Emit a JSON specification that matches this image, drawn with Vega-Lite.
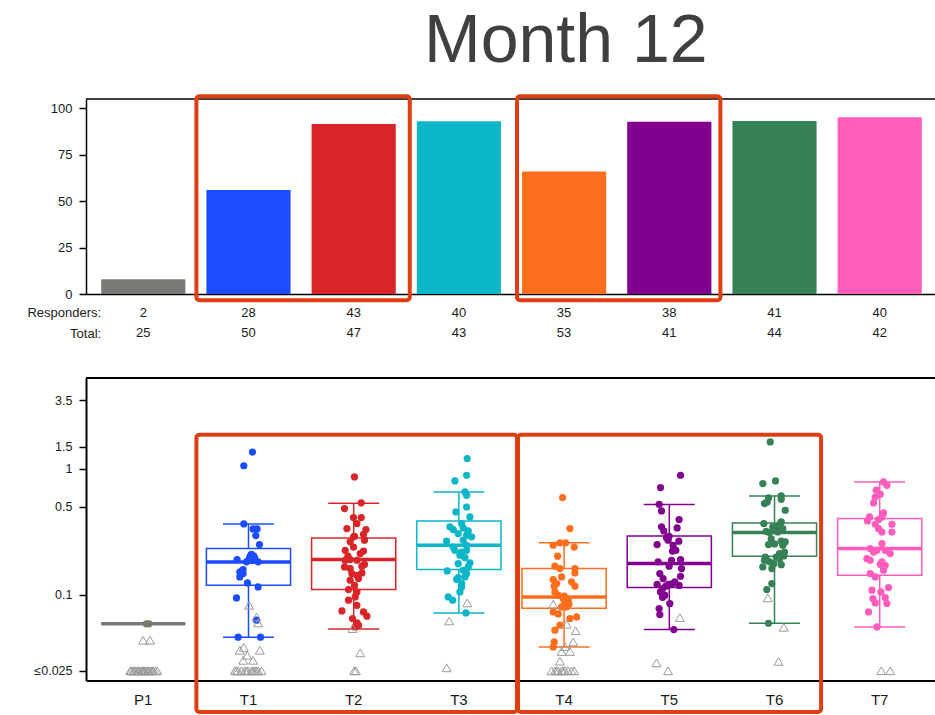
{
"$schema": "https://vega.github.io/schema/vega-lite/v6.json",
"padding": {"left": 0, "right": 0, "top": 8, "bottom": 0},
"background": "white",
"title": {"text": "Month 12", "font": "Liberation Sans", "fontSize": 68, "fontWeight": "normal", "color": "#404040", "anchor": "start", "dx": 424, "offset": 18},
"config": {"view": {"stroke": null}, "font": "Liberation Sans", "axis": {"domainColor": "black", "tickColor": "black", "labelColor": "#1a1a1a", "grid": false}},
"spacing": 36,
"resolve": {"scale": {"x": "independent", "y": "independent", "xOffset": "independent"}},
"datasets": {
"bars": [
{"g":"P1","pct":8.0,"responders":"2","total":"25"},
{"g":"T1","pct":56.0,"responders":"28","total":"50"},
{"g":"T2","pct":91.5,"responders":"43","total":"47"},
{"g":"T3","pct":93.0,"responders":"40","total":"43"},
{"g":"T4","pct":66.0,"responders":"35","total":"53"},
{"g":"T5","pct":92.7,"responders":"38","total":"41"},
{"g":"T6","pct":93.2,"responders":"41","total":"44"},
{"g":"T7","pct":95.2,"responders":"40","total":"42"}
],
"stats": [
{"g":"P1","lower":0.059,"q1":0.059,"median":0.059,"q3":0.059,"upper":0.059},
{"g":"T1","lower":0.0462,"q1":0.1194,"median":0.1828,"q3":0.2334,"upper":0.366},
{"g":"T2","lower":0.0537,"q1":0.1104,"median":0.191,"q3":0.283,"upper":0.534},
{"g":"T3","lower":0.072,"q1":0.159,"median":0.248,"q3":0.387,"upper":0.657},
{"g":"T4","lower":0.0387,"q1":0.0784,"median":0.0964,"q3":0.162,"upper":0.259},
{"g":"T5","lower":0.0531,"q1":0.1145,"median":0.1775,"q3":0.294,"upper":0.521},
{"g":"T6","lower":0.0596,"q1":0.203,"median":0.313,"q3":0.373,"upper":0.611},
{"g":"T7","lower":0.0557,"q1":0.1433,"median":0.2334,"q3":0.404,"upper":0.789}
],
"resp": [
{"g":"P1","v":0.059,"j":5.7},{"g":"P1","v":0.059,"j":3},
{"g":"T1","v":1.36,"j":4},{"g":"T1","v":1.06,"j":-4.7},{"g":"T1","v":0.366,"j":-4.7},{"g":"T1","v":0.334,"j":4.6},{"g":"T1","v":0.334,"j":8.6},{"g":"T1","v":0.296,"j":7.3},{"g":"T1","v":0.251,"j":11},{"g":"T1","v":0.191,"j":-11.4},{"g":"T1","v":0.207,"j":2.3},{"g":"T1","v":0.203,"j":5.3},{"g":"T1","v":0.188,"j":4},{"g":"T1","v":0.183,"j":9.6},{"g":"T1","v":0.192,"j":0.6},{"g":"T1","v":0.154,"j":-7},{"g":"T1","v":0.148,"j":-5.4},{"g":"T1","v":0.139,"j":-8.7},{"g":"T1","v":0.1245,"j":-1},{"g":"T1","v":0.1157,"j":9.6},{"g":"T1","v":0.0947,"j":-12},{"g":"T1","v":0.063,"j":8},{"g":"T1","v":0.0462,"j":-10.4},{"g":"T1","v":0.0462,"j":12},{"g":"T1","v":0.2,"j":1.3},{"g":"T1","v":0.195,"j":6.3},{"g":"T1","v":0.152,"j":-8.7},{"g":"T1","v":0.159,"j":-5.4},{"g":"T1","v":0.21,"j":3},{"g":"T1","v":0.183,"j":-2},
{"g":"T2","v":0.864,"j":0.8},{"g":"T2","v":0.538,"j":7.5},{"g":"T2","v":0.485,"j":-9.2},{"g":"T2","v":0.411,"j":-0.2},{"g":"T2","v":0.411,"j":7.5},{"g":"T2","v":0.336,"j":-6.8},{"g":"T2","v":0.369,"j":3.2},{"g":"T2","v":0.33,"j":12.2},{"g":"T2","v":0.303,"j":9.8},{"g":"T2","v":0.292,"j":0.8},{"g":"T2","v":0.264,"j":-3.5},{"g":"T2","v":0.272,"j":10.8},{"g":"T2","v":0.226,"j":-8.5},{"g":"T2","v":0.223,"j":9.8},{"g":"T2","v":0.203,"j":-5.8},{"g":"T2","v":0.191,"j":-3.5},{"g":"T2","v":0.1885,"j":3.2},{"g":"T2","v":0.167,"j":-9.2},{"g":"T2","v":0.162,"j":-3.5},{"g":"T2","v":0.175,"j":10.8},{"g":"T2","v":0.1433,"j":3.2},{"g":"T2","v":0.1495,"j":8.2},{"g":"T2","v":0.131,"j":-3.5},{"g":"T2","v":0.119,"j":0.8},{"g":"T2","v":0.1104,"j":-5.2},{"g":"T2","v":0.1056,"j":3.2},{"g":"T2","v":0.0964,"j":1.5},{"g":"T2","v":0.0828,"j":3.2},{"g":"T2","v":0.0746,"j":-11.8},{"g":"T2","v":0.0733,"j":9.8},{"g":"T2","v":0.0678,"j":13.2},{"g":"T2","v":0.065,"j":-1.2},{"g":"T2","v":0.06,"j":3.2},{"g":"T2","v":0.0575,"j":4.8},{"g":"T2","v":0.24,"j":-0.2},{"g":"T2","v":0.213,"j":6.5},{"g":"T2","v":0.1885,"j":-8.5},{"g":"T2","v":0.169,"j":8.2},{"g":"T2","v":0.148,"j":-1.8},{"g":"T2","v":0.135,"j":4.8},{"g":"T2","v":0.289,"j":-0.2},{"g":"T2","v":0.0908,"j":-5.2},{"g":"T2","v":0.0557,"j":1.5},
{"g":"T3","v":1.209,"j":8.3},{"g":"T3","v":0.891,"j":7.7},{"g":"T3","v":0.803,"j":-4},{"g":"T3","v":0.657,"j":6},{"g":"T3","v":0.618,"j":7.7},{"g":"T3","v":0.499,"j":7.7},{"g":"T3","v":0.456,"j":-3},{"g":"T3","v":0.416,"j":11},{"g":"T3","v":0.347,"j":-9},{"g":"T3","v":0.33,"j":-5.7},{"g":"T3","v":0.34,"j":4.3},{"g":"T3","v":0.322,"j":9.3},{"g":"T3","v":0.298,"j":7.7},{"g":"T3","v":0.289,"j":12.7},{"g":"T3","v":0.268,"j":-12.3},{"g":"T3","v":0.272,"j":4.3},{"g":"T3","v":0.226,"j":-4},{"g":"T3","v":0.2066,"j":1},{"g":"T3","v":0.198,"j":6},{"g":"T3","v":0.1795,"j":11},{"g":"T3","v":0.167,"j":9.3},{"g":"T3","v":0.155,"j":-11.7},{"g":"T3","v":0.157,"j":4.3},{"g":"T3","v":0.148,"j":7.7},{"g":"T3","v":0.1375,"j":-0.7},{"g":"T3","v":0.123,"j":2.7},{"g":"T3","v":0.133,"j":-2.3},{"g":"T3","v":0.1056,"j":1},{"g":"T3","v":0.0964,"j":-10.7},{"g":"T3","v":0.0908,"j":-6.3},{"g":"T3","v":0.072,"j":7},{"g":"T3","v":0.369,"j":2.7},{"g":"T3","v":0.307,"j":-0.7},{"g":"T3","v":0.248,"j":7.7},{"g":"T3","v":0.24,"j":-5.7},{"g":"T3","v":0.219,"j":2.7},{"g":"T3","v":0.226,"j":7.7},{"g":"T3","v":0.177,"j":-0.7},{"g":"T3","v":0.139,"j":6},{"g":"T3","v":0.1157,"j":2.7},
{"g":"T4","v":0.593,"j":-1.5},{"g":"T4","v":0.336,"j":5.8},{"g":"T4","v":0.248,"j":-10.9},{"g":"T4","v":0.259,"j":-4.2},{"g":"T4","v":0.259,"j":1.5},{"g":"T4","v":0.24,"j":10.1},{"g":"T4","v":0.203,"j":-6.5},{"g":"T4","v":0.169,"j":-9.2},{"g":"T4","v":0.162,"j":-4.2},{"g":"T4","v":0.162,"j":10.8},{"g":"T4","v":0.1495,"j":10.8},{"g":"T4","v":0.1325,"j":-10.9},{"g":"T4","v":0.127,"j":7.5},{"g":"T4","v":0.1173,"j":10.8},{"g":"T4","v":0.1173,"j":-9.9},{"g":"T4","v":0.1056,"j":-9.2},{"g":"T4","v":0.0995,"j":-5.9},{"g":"T4","v":0.0977,"j":0.1},{"g":"T4","v":0.088,"j":2.5},{"g":"T4","v":0.0844,"j":4.8},{"g":"T4","v":0.0803,"j":-2.5},{"g":"T4","v":0.0733,"j":-10.9},{"g":"T4","v":0.0707,"j":-5.9},{"g":"T4","v":0.0669,"j":12.5},{"g":"T4","v":0.065,"j":5.8},{"g":"T4","v":0.0575,"j":-4.2},{"g":"T4","v":0.0525,"j":-9.2},{"g":"T4","v":0.0424,"j":-9.9},{"g":"T4","v":0.0387,"j":-10.9},{"g":"T4","v":0.0855,"j":0.8},{"g":"T4","v":0.0936,"j":-0.9},{"g":"T4","v":0.123,"j":-7.5},{"g":"T4","v":0.0803,"j":2.5},{"g":"T4","v":0.139,"j":-2.5},{"g":"T4","v":0.0908,"j":4.1},
{"g":"T5","v":0.891,"j":11.2},{"g":"T5","v":0.711,"j":-8.8},{"g":"T5","v":0.524,"j":-10.2},{"g":"T5","v":0.464,"j":-7.8},{"g":"T5","v":0.397,"j":9.8},{"g":"T5","v":0.34,"j":7.8},{"g":"T5","v":0.347,"j":-7.8},{"g":"T5","v":0.322,"j":-5.5},{"g":"T5","v":0.292,"j":-0.2},{"g":"T5","v":0.272,"j":-1.2},{"g":"T5","v":0.267,"j":9.5},{"g":"T5","v":0.251,"j":-12.2},{"g":"T5","v":0.248,"j":3.8},{"g":"T5","v":0.223,"j":3.2},{"g":"T5","v":0.226,"j":6.5},{"g":"T5","v":0.183,"j":-11.2},{"g":"T5","v":0.191,"j":11.2},{"g":"T5","v":0.169,"j":-0.2},{"g":"T5","v":0.162,"j":12.2},{"g":"T5","v":0.148,"j":-9.5},{"g":"T5","v":0.1405,"j":11.2},{"g":"T5","v":0.135,"j":-6.2},{"g":"T5","v":0.1216,"j":-12.2},{"g":"T5","v":0.1216,"j":-1.2},{"g":"T5","v":0.123,"j":3.2},{"g":"T5","v":0.119,"j":9.8},{"g":"T5","v":0.1124,"j":-6.8},{"g":"T5","v":0.1173,"j":-3.5},{"g":"T5","v":0.1056,"j":-8.8},{"g":"T5","v":0.0995,"j":-4.5},{"g":"T5","v":0.0957,"j":-6.8},{"g":"T5","v":0.0855,"j":0.5},{"g":"T5","v":0.078,"j":-10.2},{"g":"T5","v":0.0699,"j":-9.5},{"g":"T5","v":0.0531,"j":4.5},{"g":"T5","v":0.285,"j":-2.8},{"g":"T5","v":0.1885,"j":2.2},{"g":"T5","v":0.127,"j":5.5},
{"g":"T6","v":1.637,"j":-4.3},{"g":"T6","v":0.766,"j":-11.7},{"g":"T6","v":0.803,"j":1},{"g":"T6","v":0.589,"j":-6},{"g":"T6","v":0.611,"j":6.7},{"g":"T6","v":0.531,"j":-10},{"g":"T6","v":0.547,"j":-7.3},{"g":"T6","v":0.574,"j":6.7},{"g":"T6","v":0.47,"j":10.7},{"g":"T6","v":0.369,"j":-10.7},{"g":"T6","v":0.38,"j":6.7},{"g":"T6","v":0.357,"j":4},{"g":"T6","v":0.347,"j":-1.7},{"g":"T6","v":0.32,"j":-8.3},{"g":"T6","v":0.336,"j":8.3},{"g":"T6","v":0.326,"j":1.7},{"g":"T6","v":0.313,"j":-5},{"g":"T6","v":0.267,"j":6.7},{"g":"T6","v":0.264,"j":10.7},{"g":"T6","v":0.251,"j":-6},{"g":"T6","v":0.254,"j":0},{"g":"T6","v":0.213,"j":5},{"g":"T6","v":0.219,"j":10},{"g":"T6","v":0.2,"j":-9.3},{"g":"T6","v":0.167,"j":-11.7},{"g":"T6","v":0.183,"j":-5},{"g":"T6","v":0.162,"j":-2.7},{"g":"T6","v":0.174,"j":6.7},{"g":"T6","v":0.194,"j":5},{"g":"T6","v":0.204,"j":9.3},{"g":"T6","v":0.1885,"j":-7.3},{"g":"T6","v":0.123,"j":-2.7},{"g":"T6","v":0.1104,"j":-7.7},{"g":"T6","v":0.0596,"j":-6},{"g":"T6","v":0.316,"j":3.3},{"g":"T6","v":0.279,"j":-3.3},{"g":"T6","v":0.248,"j":8.3},{"g":"T6","v":0.2,"j":1.7},{"g":"T6","v":0.1885,"j":-10},{"g":"T6","v":0.361,"j":5},{"g":"T6","v":0.177,"j":-0.7},
{"g":"T7","v":0.789,"j":3.8},{"g":"T7","v":0.741,"j":7.2},{"g":"T7","v":0.678,"j":-3.5},{"g":"T7","v":0.631,"j":0.5},{"g":"T7","v":0.599,"j":-4.5},{"g":"T7","v":0.537,"j":-6.2},{"g":"T7","v":0.448,"j":3.8},{"g":"T7","v":0.416,"j":-10.2},{"g":"T7","v":0.416,"j":2.2},{"g":"T7","v":0.387,"j":-12.2},{"g":"T7","v":0.397,"j":-1.2},{"g":"T7","v":0.364,"j":-4.5},{"g":"T7","v":0.364,"j":12.2},{"g":"T7","v":0.316,"j":2.2},{"g":"T7","v":0.316,"j":12.2},{"g":"T7","v":0.2334,"j":-9.5},{"g":"T7","v":0.219,"j":-6.2},{"g":"T7","v":0.256,"j":2.2},{"g":"T7","v":0.226,"j":5.5},{"g":"T7","v":0.213,"j":10.5},{"g":"T7","v":0.194,"j":-12.8},{"g":"T7","v":0.1885,"j":-9.5},{"g":"T7","v":0.175,"j":0.5},{"g":"T7","v":0.172,"j":5.5},{"g":"T7","v":0.165,"j":3.8},{"g":"T7","v":0.148,"j":-9.5},{"g":"T7","v":0.139,"j":-4.5},{"g":"T7","v":0.109,"j":-7.8},{"g":"T7","v":0.1056,"j":1.2},{"g":"T7","v":0.1145,"j":8.8},{"g":"T7","v":0.0936,"j":-6.8},{"g":"T7","v":0.0952,"j":5.5},{"g":"T7","v":0.0864,"j":-4.5},{"g":"T7","v":0.0855,"j":7.2},{"g":"T7","v":0.0733,"j":-11.2},{"g":"T7","v":0.0557,"j":-2.8},{"g":"T7","v":0.226,"j":-2.8},{"g":"T7","v":0.157,"j":3.8},{"g":"T7","v":0.336,"j":-1.2},{"g":"T7","v":0.183,"j":2.2}
],
"nonr": [
{"g":"P1","v":0.0437,"j":-0.3},{"g":"P1","v":0.0437,"j":6.7},
{"g":"P1","v":0.025,"j":-13},{"g":"P1","v":0.025,"j":-12},{"g":"P1","v":0.025,"j":-10},{"g":"P1","v":0.025,"j":-9},{"g":"P1","v":0.025,"j":-8},{"g":"P1","v":0.025,"j":-6},{"g":"P1","v":0.025,"j":-5},{"g":"P1","v":0.025,"j":-4},{"g":"P1","v":0.025,"j":-2},{"g":"P1","v":0.025,"j":-1},{"g":"P1","v":0.025,"j":0},{"g":"P1","v":0.025,"j":1},{"g":"P1","v":0.025,"j":2},{"g":"P1","v":0.025,"j":4},{"g":"P1","v":0.025,"j":5},{"g":"P1","v":0.025,"j":6},{"g":"P1","v":0.025,"j":8},{"g":"P1","v":0.025,"j":9},{"g":"P1","v":0.025,"j":10},{"g":"P1","v":0.025,"j":12},{"g":"P1","v":0.025,"j":14},
{"g":"T1","v":0.0828,"j":0.6},{"g":"T1","v":0.0669,"j":8},{"g":"T1","v":0.06,"j":9.6},{"g":"T1","v":0.0364,"j":11.3},{"g":"T1","v":0.0364,"j":-8.7},{"g":"T1","v":0.0383,"j":-4.7},{"g":"T1","v":0.0332,"j":-1.4},{"g":"T1","v":0.0303,"j":4.6},{"g":"T1","v":0.0303,"j":-5.4},
{"g":"T1","v":0.025,"j":-13.7},{"g":"T1","v":0.025,"j":-10.4},{"g":"T1","v":0.025,"j":-7},{"g":"T1","v":0.025,"j":-3.7},{"g":"T1","v":0.025,"j":-0.4},{"g":"T1","v":0.025,"j":3},{"g":"T1","v":0.025,"j":6.3},{"g":"T1","v":0.025,"j":9.6},{"g":"T1","v":0.025,"j":13},{"g":"T1","v":0.025,"j":-12},{"g":"T1","v":0.025,"j":-2},{"g":"T1","v":0.025,"j":4.6},{"g":"T1","v":0.025,"j":8},
{"g":"T2","v":0.0541,"j":-1.2},{"g":"T2","v":0.0347,"j":6.5},{"g":"T2","v":0.025,"j":2.2},{"g":"T2","v":0.025,"j":0.5},
{"g":"T3","v":0.0864,"j":8.3},{"g":"T3","v":0.0622,"j":-9.7},{"g":"T3","v":0.0264,"j":-12.3},
{"g":"T4","v":0.0844,"j":-10.9},{"g":"T4","v":0.0585,"j":2.5},{"g":"T4","v":0.052,"j":11.5},{"g":"T4","v":0.0424,"j":9.1},{"g":"T4","v":0.039,"j":0.8},{"g":"T4","v":0.0356,"j":-2.5},{"g":"T4","v":0.0356,"j":5.8},{"g":"T4","v":0.0298,"j":-4.2},
{"g":"T4","v":0.025,"j":-12.5},{"g":"T4","v":0.025,"j":-9.2},{"g":"T4","v":0.025,"j":-5.9},{"g":"T4","v":0.025,"j":-2.5},{"g":"T4","v":0.025,"j":0.8},{"g":"T4","v":0.025,"j":4.1},{"g":"T4","v":0.025,"j":7.5},{"g":"T4","v":0.025,"j":10.1},{"g":"T4","v":0.025,"j":-7.5},{"g":"T4","v":0.025,"j":-0.9},
{"g":"T5","v":0.0662,"j":10.5},{"g":"T5","v":0.0289,"j":-12.8},{"g":"T5","v":0.025,"j":-1.2},
{"g":"T6","v":0.0948,"j":-6.7},{"g":"T6","v":0.0554,"j":9.3},{"g":"T6","v":0.0297,"j":4},
{"g":"T7","v":0.025,"j":1.5},{"g":"T7","v":0.025,"j":10.5}
]
},
"vconcat": [
{
"width": 849, "height": 195,
"layer": [
{"data": {"name": "bars"}, "mark": {"type": "bar", "width": {"band": 1}},
 "encoding": {
  "x": {"field": "g", "type": "nominal", "sort": null,
    "scale": {"type": "band", "domain": ["P1","T1","T2","T3","T4","T5","T6","T7"], "paddingInner": 0.2, "paddingOuter": 0.135, "align": 0.535},
    "axis": {"labels": false, "ticks": false, "domain": true, "domainWidth": 1.5, "title": ["Responders:", "Total:"], "titleAngle": 0, "titleAlign": "right", "titleBaseline": "alphabetic", "titleX": 14.7, "titleY": 22.6, "titleFontSize": 13, "titleFontWeight": "normal", "titleLineHeight": 20.7, "titleColor": "#1a1a1a", "titleFont": "Liberation Sans"}},
  "y": {"field": "pct", "type": "quantitative", "scale": {"domain": [0, 105], "nice": false},
    "axis": {"values": [0,25,50,75,100], "title": null, "tickSize": 7, "tickWidth": 1.5, "labelFontSize": 13, "labelPadding": 7, "domainWidth": 1.5, "minExtent": 86}},
  "color": {"field": "g", "type": "nominal", "scale": {"domain": ["P1","T1","T2","T3","T4","T5","T6","T7"], "range": ["#7a7a74","#1c4cff","#d92428","#0bb6c9","#ff6e1c","#82008f","#368155","#ff5cbc"]}, "legend": null}
 }},
{"data": {"name": "bars"}, "mark": {"type": "text", "fontSize": 13, "baseline": "alphabetic", "color": "#1a1a1a"},
 "encoding": {"x": {"field": "g", "type": "nominal"}, "y": {"datum": -12.2}, "text": {"field": "responders"}}},
{"data": {"name": "bars"}, "mark": {"type": "text", "fontSize": 13, "baseline": "alphabetic", "color": "#1a1a1a"},
 "encoding": {"x": {"field": "g", "type": "nominal"}, "y": {"datum": -23.3}, "text": {"field": "total"}}},
{"data": {"values": [{}]}, "mark": {"type": "rule", "color": "black", "strokeWidth": 1.5},
 "encoding": {"y": {"datum": 105}}},
{"data": {"values": [{"from": "T1", "to": "T2"}]}, "mark": {"type": "rect", "filled": false, "stroke": "#de3f12", "strokeWidth": 4, "cornerRadius": 3, "xOffset": -10, "x2Offset": 14},
 "encoding": {"x": {"field": "from", "type": "nominal", "bandPosition": 0}, "x2": {"field": "to", "bandPosition": 1}, "y": {"datum": 106.5}, "y2": {"datum": -3.4}}},
{"data": {"values": [{"from": "T4", "to": "T5"}]}, "mark": {"type": "rect", "filled": false, "stroke": "#de3f12", "strokeWidth": 4, "cornerRadius": 3, "xOffset": -5, "x2Offset": 9},
 "encoding": {"x": {"field": "from", "type": "nominal", "bandPosition": 0}, "x2": {"field": "to", "bandPosition": 1}, "y": {"datum": 106.5}, "y2": {"datum": -3.4}}}
]
},
{
"width": 849, "height": 302.6,
"layer": [
{"data": {"name": "stats"}, "mark": {"type": "rule", "strokeWidth": 1.5},
 "encoding": {
  "x": {"field": "g", "type": "nominal", "sort": null,
    "scale": {"type": "band", "domain": ["P1","T1","T2","T3","T4","T5","T6","T7"], "paddingInner": 0.2, "paddingOuter": 0.135, "align": 0.535},
    "axis": {"ticks": false, "domain": true, "domainWidth": 2, "title": null, "labelFontSize": 15, "labelPadding": 12, "labelAngle": 0}},
  "y": {"field": "lower", "type": "quantitative", "scale": {"type": "log", "domain": [0.0209, 5.27], "nice": false},
    "axis": {"values": [0.025, 0.1, 0.5, 1, 1.5, 3.5], "labelExpr": "datum.value < 0.03 ? '≤0.025' : format(datum.value, '~g')", "title": null, "tickSize": 7, "tickWidth": 1.5, "labelFontSize": 12.5, "labelPadding": 7, "domainWidth": 2, "minExtent": 86}},
  "y2": {"field": "upper"},
  "color": {"field": "g", "type": "nominal", "scale": {"domain": ["P1","T1","T2","T3","T4","T5","T6","T7"], "range": ["#7a7a74","#1c4cff","#d92428","#0bb6c9","#ff6e1c","#82008f","#368155","#ff5cbc"]}, "legend": null}
 }},
{"data": {"name": "stats"}, "mark": {"type": "tick", "size": 51, "thickness": 1.5, "opacity": 1},
 "encoding": {"x": {"field": "g", "type": "nominal"}, "y": {"field": "lower", "type": "quantitative"}, "color": {"field": "g", "type": "nominal", "legend": null}}},
{"data": {"name": "stats"}, "mark": {"type": "tick", "size": 51, "thickness": 1.5, "opacity": 1},
 "encoding": {"x": {"field": "g", "type": "nominal"}, "y": {"field": "upper", "type": "quantitative"}, "color": {"field": "g", "type": "nominal", "legend": null}}},
{"data": {"name": "stats"}, "mark": {"type": "rect", "fill": "white", "strokeWidth": 1.5},
 "encoding": {"x": {"field": "g", "type": "nominal", "bandPosition": 0}, "x2": {"field": "g", "bandPosition": 1}, "y": {"field": "q1", "type": "quantitative"}, "y2": {"field": "q3"}, "stroke": {"field": "g", "type": "nominal", "scale": {"domain": ["P1","T1","T2","T3","T4","T5","T6","T7"], "range": ["#7a7a74","#1c4cff","#d92428","#0bb6c9","#ff6e1c","#82008f","#368155","#ff5cbc"]}, "legend": null}}},
{"data": {"name": "stats"}, "mark": {"type": "tick", "size": 84, "thickness": 3.5, "opacity": 1},
 "encoding": {"x": {"field": "g", "type": "nominal"}, "y": {"field": "median", "type": "quantitative"}, "color": {"field": "g", "type": "nominal", "legend": null}}},
{"data": {"name": "resp"}, "mark": {"type": "circle", "size": 52, "opacity": 1},
 "encoding": {"x": {"field": "g", "type": "nominal"}, "xOffset": {"field": "j", "type": "quantitative", "scale": {"domain": [-20, 20], "range": [22.1, 62.1]}}, "y": {"field": "v", "type": "quantitative"}, "color": {"field": "g", "type": "nominal", "legend": null}}},
{"data": {"name": "nonr"}, "mark": {"type": "point", "shape": "triangle-up", "filled": false, "size": 80, "stroke": "#9a9a9a", "strokeWidth": 1, "opacity": 1},
 "encoding": {"x": {"field": "g", "type": "nominal"}, "xOffset": {"field": "j", "type": "quantitative", "scale": {"domain": [-20, 20], "range": [22.1, 62.1]}}, "y": {"field": "v", "type": "quantitative"}}},
{"data": {"values": [{}]}, "mark": {"type": "rule", "color": "black", "strokeWidth": 2},
 "encoding": {"y": {"datum": 5.27}}},
{"data": {"values": [{"from": "T1", "to": "T3"}]}, "mark": {"type": "rect", "filled": false, "stroke": "#de3f12", "strokeWidth": 4, "cornerRadius": 3, "xOffset": -10, "x2Offset": 16},
 "encoding": {"x": {"field": "from", "type": "nominal", "bandPosition": 0}, "x2": {"field": "to", "bandPosition": 1}, "y": {"datum": 1.868}, "y2": {"datum": 0.0118}}},
{"data": {"values": [{"from": "T4", "to": "T6"}]}, "mark": {"type": "rect", "filled": false, "stroke": "#de3f12", "strokeWidth": 4, "cornerRadius": 3, "xOffset": -4, "x2Offset": 4.5},
 "encoding": {"x": {"field": "from", "type": "nominal", "bandPosition": 0}, "x2": {"field": "to", "bandPosition": 1}, "y": {"datum": 1.868}, "y2": {"datum": 0.0118}}}
]
}
]
}
